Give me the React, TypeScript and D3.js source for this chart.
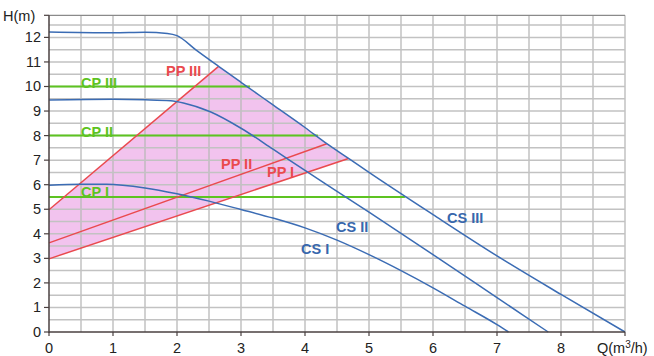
import React from "react";
import * as d3 from "d3";

const Q_TICKS = [0, 1, 2, 3, 4, 5, 6, 7, 8];
const H_TICKS = [0, 1, 2, 3, 4, 5, 6, 7, 8, 9, 10, 11, 12];

const CS_I: [number, number][] = [
  [0, 5.98], [0.5, 6.02], [0.9, 6.02], [1.5, 5.87], [2, 5.63], [2.5, 5.33], [3, 4.99],
  [3.5, 4.64], [4, 4.24], [4.5, 3.74], [5, 3.15], [5.5, 2.5], [6, 1.8], [6.5, 1.05], [7, 0.3], [7.18, 0],
];
const CS_II: [number, number][] = [
  [0, 9.45], [1, 9.48], [1.5, 9.46], [1.9, 9.42], [2.1, 9.33], [2.52, 8.97], [3, 8.3], [3.5, 7.45],
  [4, 6.58], [4.5, 5.73], [5, 4.88], [6, 3.15], [7, 1.4], [7.8, 0],
];
const CS_III: [number, number][] = [
  [0, 12.22], [1, 12.19], [1.5, 12.21], [1.85, 12.16], [2, 12.07], [2.3, 11.48], [2.65, 10.82],
  [3, 10.17], [3.5, 9.25], [4, 8.33], [4.34, 7.67], [4.68, 7.07], [5, 6.5], [6, 4.78], [7, 3.1],
  [8, 1.53], [9, 0],
];

const CS_NAMES = ["CS I", "CS II", "CS III"];
const CS_LABEL_POS: [number, number][] = [[301, 254], [336, 232], [447, 223]];

const PP_NAMES = ["PP I", "PP II", "PP III"];
const PP_START: [number, number][] = [[0, 2.98], [0, 3.63], [0, 4.98]];
const PP_END: [number, number][] = [[4.68, 7.07], [4.34, 7.67], [2.65, 10.82]];
const PP_LABEL_POS: [number, number][] = [[267, 177], [221, 169], [166, 76]];

const CP_NAMES = ["CP I", "CP II", "CP III"];
const CP_H = [5.5, 8, 10];
const CP_END_Q = [5.56, 4.2, 3.14];
const CP_LABEL_POS: [number, number][] = [[81, 197], [81, 137], [81, 88]];

const BLUE = "#3b6cb4";
const BLUE_TXT = "#3767ad";
const RED = "#ea4a4e";
const GREEN = "#5dc321";
const PINK = "#f2c3ee";

export default function App() {
  const x = d3.scaleLinear().domain([0, 9]).range([49, 625]);
  const y = d3.scaleLinear().domain([0, 12.9]).range([332, 15.3]);

  const line = d3
    .line<[number, number]>()
    .x((d) => x(d[0]))
    .y((d) => y(d[1]))
    .curve(d3.curveMonotoneX);

  const straight = d3
    .line<[number, number]>()
    .x((d) => x(d[0]))
    .y((d) => y(d[1]));

  const upper = CS_III.filter((p) => p[0] > PP_END[2][0] && p[0] < PP_END[0][0]).slice().reverse();
  const region: [number, number][] = [PP_START[0], PP_END[0], ...upper, PP_END[2], PP_START[2]];
  const regionPath = straight(region) + "Z";

  const gridQ = d3.range(0.5, 9.01, 0.5);
  const gridH = d3.range(0.5, 12.51, 0.5);

  const font = "'Liberation Sans', Arial, sans-serif";

  return (
    <svg width={654} height={356} style={{ position: "absolute", left: 0, top: 0 }} fontFamily={font}>
      <rect x={0} y={0} width={654} height={356} fill="#fff" />
      <path d={regionPath} fill={PINK} />
      {gridQ.map((q) => (
        <line key={"gq" + q} x1={x(q)} x2={x(q)} y1={y(0)} y2={y(12.9)} stroke="#b9b9b9" strokeWidth={1.3} />
      ))}
      {gridH.map((h) => (
        <line key={"gh" + h} x1={x(0)} x2={x(9)} y1={y(h)} y2={y(h)} stroke="#c2c2c2" strokeWidth={1.5} />
      ))}
      <line x1={x(0)} x2={x(9)} y1={y(12.9)} y2={y(12.9)} stroke="#8a8a8a" strokeWidth={1.2} />

      {CP_H.map((h, i) => (
        <line key={"cp" + i} x1={x(0)} x2={x(CP_END_Q[i])} y1={y(h)} y2={y(h)} stroke={GREEN} strokeWidth={2} />
      ))}
      {PP_START.map((s, i) => (
        <path key={"pp" + i} d={straight([s, PP_END[i]]) || ""} stroke={RED} strokeWidth={1.5} fill="none" />
      ))}
      {[CS_I, CS_II, CS_III].map((c, i) => (
        <path key={"cs" + i} d={line(c) || ""} stroke={BLUE} strokeWidth={1.5} fill="none" />
      ))}

      <line x1={x(0)} x2={x(0)} y1={y(0) + 1} y2={y(12.9)} stroke="#4a4040" strokeWidth={1.5} />
      <line x1={x(0)} x2={x(9)} y1={y(0)} y2={y(0)} stroke="#4a4040" strokeWidth={1.5} />
      {H_TICKS.map((h) => (
        <g key={"ht" + h}>
          <line x1={x(0) - 5} x2={x(0)} y1={y(h)} y2={y(h)} stroke="#4a4040" strokeWidth={1.2} />
          <text x={x(0) - 8} y={y(h) + 5} fontSize={14.5} textAnchor="end" fill="#222">{h}</text>
        </g>
      ))}
      <line x1={x(0) - 5} x2={x(0)} y1={y(12.9)} y2={y(12.9)} stroke="#4a4040" strokeWidth={1.2} />
      {Q_TICKS.map((q) => (
        <g key={"qt" + q}>
          <line x1={x(q)} x2={x(q)} y1={y(0)} y2={y(0) + 4} stroke="#4a4040" strokeWidth={1.2} />
          <text x={x(q)} y={353} fontSize={14.5} textAnchor="middle" fill="#222">{q}</text>
        </g>
      ))}
      <line x1={x(9)} x2={x(9)} y1={y(0)} y2={y(0) + 4} stroke="#4a4040" strokeWidth={1.2} />
      <text x={3} y={21} fontSize={14.5} fill="#222">H(m)</text>
      <text x={597} y={353} fontSize={14.5} fill="#222">
        <tspan>Q(m</tspan>
        <tspan dy={-5} fontSize={10}>3</tspan>
        <tspan dy={5}>/h)</tspan>
      </text>

      {CP_NAMES.map((n, i) => (
        <text key={"cpl" + i} x={CP_LABEL_POS[i][0]} y={CP_LABEL_POS[i][1]} fontSize={14.5} fontWeight="bold" fill={GREEN}>{n}</text>
      ))}
      {PP_NAMES.map((n, i) => (
        <text key={"ppl" + i} x={PP_LABEL_POS[i][0]} y={PP_LABEL_POS[i][1]} fontSize={14.5} fontWeight="bold" fill={RED}>{n}</text>
      ))}
      {CS_NAMES.map((n, i) => (
        <text key={"csl" + i} x={CS_LABEL_POS[i][0]} y={CS_LABEL_POS[i][1]} fontSize={14.5} fontWeight="bold" fill={BLUE_TXT}>{n}</text>
      ))}
    </svg>
  );
}
